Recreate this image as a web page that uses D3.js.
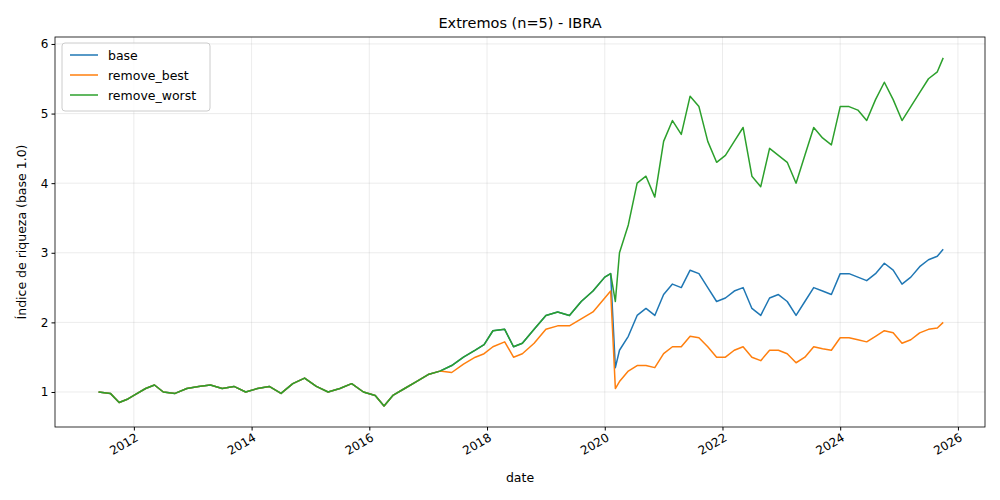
<!DOCTYPE html>
<html>
<head>
<meta charset="utf-8">
<script src="https://cdn.jsdelivr.net/npm/d3@7"></script>
<style>
  body { margin: 0; background: #fff; }
  text { font-family: "DejaVu Sans", sans-serif; }
</style>
</head>
<body>
<svg id="chart" width="1000" height="500"></svg>
<script>
// dates as fractional years
var years = [2011.4, 2011.6, 2011.75, 2011.9, 2012.0, 2012.2, 2012.35, 2012.5, 2012.7, 2012.9,
  2013.1, 2013.3, 2013.5, 2013.7, 2013.9, 2014.1, 2014.3, 2014.5, 2014.7, 2014.9,
  2015.1, 2015.3, 2015.5, 2015.7, 2015.9, 2016.1, 2016.25, 2016.4, 2016.6, 2016.8,
  2017.0, 2017.2, 2017.4, 2017.6, 2017.8, 2017.95, 2018.1, 2018.3, 2018.45, 2018.6,
  2018.8, 2019.0, 2019.2, 2019.4, 2019.6, 2019.8, 2020.0, 2020.1, 2020.18, 2020.25,
  2020.4, 2020.55, 2020.7, 2020.85, 2021.0, 2021.15, 2021.3, 2021.45, 2021.6, 2021.75,
  2021.9, 2022.05, 2022.2, 2022.35, 2022.5, 2022.65, 2022.8, 2022.95, 2023.1, 2023.25,
  2023.4, 2023.55, 2023.7, 2023.85, 2024.0, 2024.15, 2024.3, 2024.45, 2024.6, 2024.75,
  2024.9, 2025.05, 2025.2, 2025.35, 2025.5, 2025.65, 2025.75];

var removeWorst = [1.0, 0.98, 0.85, 0.9, 0.95, 1.05, 1.1, 1.0, 0.98, 1.05,
  1.08, 1.1, 1.05, 1.08, 1.0, 1.05, 1.08, 0.98, 1.12, 1.2,
  1.08, 1.0, 1.05, 1.12, 1.0, 0.95, 0.8, 0.95, 1.05, 1.15,
  1.25, 1.3, 1.38, 1.5, 1.6, 1.68, 1.88, 1.9, 1.65, 1.7,
  1.9, 2.1, 2.15, 2.1, 2.3, 2.45, 2.65, 2.7, 2.3, 3.0,
  3.4, 4.0, 4.1, 3.8, 4.6, 4.9, 4.7, 5.25, 5.1, 4.6,
  4.3, 4.4, 4.6, 4.8, 4.1, 3.95, 4.5, 4.4, 4.3, 4.0,
  4.4, 4.8, 4.65, 4.55, 5.1, 5.1, 5.05, 4.9, 5.2, 5.45,
  5.2, 4.9, 5.1, 5.3, 5.5, 5.6, 5.8];

var base = [1.0, 0.98, 0.85, 0.9, 0.95, 1.05, 1.1, 1.0, 0.98, 1.05,
  1.08, 1.1, 1.05, 1.08, 1.0, 1.05, 1.08, 0.98, 1.12, 1.2,
  1.08, 1.0, 1.05, 1.12, 1.0, 0.95, 0.8, 0.95, 1.05, 1.15,
  1.25, 1.3, 1.38, 1.5, 1.6, 1.68, 1.88, 1.9, 1.65, 1.7,
  1.9, 2.1, 2.15, 2.1, 2.3, 2.45, 2.65, 2.7, 1.35, 1.6,
  1.8, 2.1, 2.2, 2.1, 2.4, 2.55, 2.5, 2.75, 2.7, 2.5,
  2.3, 2.35, 2.45, 2.5, 2.2, 2.1, 2.35, 2.4, 2.3, 2.1,
  2.3, 2.5, 2.45, 2.4, 2.7, 2.7, 2.65, 2.6, 2.7, 2.85,
  2.75, 2.55, 2.65, 2.8, 2.9, 2.95, 3.05];

var removeBest = [1.0, 0.98, 0.85, 0.9, 0.95, 1.05, 1.1, 1.0, 0.98, 1.05,
  1.08, 1.1, 1.05, 1.08, 1.0, 1.05, 1.08, 0.98, 1.12, 1.2,
  1.08, 1.0, 1.05, 1.12, 1.0, 0.95, 0.8, 0.95, 1.05, 1.15,
  1.25, 1.3, 1.28, 1.4, 1.5, 1.55, 1.65, 1.72, 1.5, 1.55,
  1.7, 1.9, 1.95, 1.95, 2.05, 2.15, 2.35, 2.45, 1.05, 1.15,
  1.3, 1.38, 1.38, 1.35, 1.55, 1.65, 1.65, 1.8, 1.78, 1.65,
  1.5, 1.5, 1.6, 1.65, 1.5, 1.45, 1.6, 1.6, 1.55, 1.42,
  1.5, 1.65, 1.62, 1.6, 1.78, 1.78, 1.75, 1.72, 1.8, 1.88,
  1.85, 1.7, 1.75, 1.85, 1.9, 1.92, 2.0];

var seriesNames = ["base", "remove_best", "remove_worst"];
var seriesColors = ["#1f77b4", "#ff7f0e", "#2ca02c"];
var xTicks = [2012, 2014, 2016, 2018, 2020, 2022, 2024, 2026];
var yTicks = [1, 2, 3, 4, 5, 6];

var allSeries = [base, removeBest, removeWorst];

var svg = d3.select("#chart");
var margin = { l: 55, r: 15, t: 37, b: 73 };
var W = 1000, H = 500;

var x = d3.scaleLinear().domain([2010.66, 2026.46]).range([margin.l, W - margin.r]);
var y = d3.scaleLinear().domain([0.497, 6.1]).range([H - margin.b, margin.t]);

// grid
svg.append("g").selectAll("line").data(xTicks).join("line")
  .attr("x1", d => x(d)).attr("x2", d => x(d))
  .attr("y1", margin.t).attr("y2", H - margin.b)
  .attr("stroke", "#b0b0b0").attr("stroke-opacity", 0.3).attr("stroke-width", 0.8);
svg.append("g").selectAll("line").data(yTicks).join("line")
  .attr("x1", margin.l).attr("x2", W - margin.r)
  .attr("y1", d => y(d)).attr("y2", d => y(d))
  .attr("stroke", "#b0b0b0").attr("stroke-opacity", 0.3).attr("stroke-width", 0.8);

// lines
var line = d3.line().x((d, i) => x(years[i])).y(d => y(d));
allSeries.forEach(function (s, k) {
  svg.append("path").datum(s)
    .attr("d", line)
    .attr("fill", "none")
    .attr("stroke", seriesColors[k])
    .attr("stroke-width", 1.5)
    .attr("stroke-linejoin", "round");
});

// axes
var xAxis = svg.append("g").attr("transform", "translate(0," + (H - margin.b) + ")")
  .call(d3.axisBottom(x).tickValues(xTicks).tickFormat(d3.format("d")).tickSizeOuter(0).tickSize(3.5));
xAxis.selectAll("text")
  .attr("font-size", 12)
  .attr("text-anchor", "end")
  .attr("dx", "-0.2em").attr("dy", "0.6em")
  .attr("transform", "rotate(-30)");
var yAxis = svg.append("g").attr("transform", "translate(" + margin.l + ",0)")
  .call(d3.axisLeft(y).tickValues(yTicks).tickFormat(d3.format("d")).tickSizeOuter(0).tickSize(3.5));
yAxis.selectAll("text").attr("font-size", 12);
[xAxis, yAxis].forEach(a => a.select(".domain").remove());

// frame
svg.append("rect")
  .attr("x", margin.l).attr("y", margin.t)
  .attr("width", W - margin.l - margin.r).attr("height", H - margin.t - margin.b)
  .attr("fill", "none").attr("stroke", "#000").attr("stroke-width", 0.8);

// labels
svg.append("text").attr("x", (margin.l + W - margin.r) / 2).attr("y", 28)
  .attr("text-anchor", "middle").attr("font-size", 14.5).text("Extremos (n=5) - IBRA");
svg.append("text").attr("x", (margin.l + W - margin.r) / 2).attr("y", 482)
  .attr("text-anchor", "middle").attr("font-size", 12.5).text("date");
svg.append("text")
  .attr("transform", "translate(26," + ((margin.t + H - margin.b) / 2) + ") rotate(-90)")
  .attr("text-anchor", "middle").attr("font-size", 12.5).text("Índice de riqueza (base 1.0)");

// legend
var lg = svg.append("g").attr("transform", "translate(62,43)");
lg.append("rect").attr("width", 148).attr("height", 68).attr("rx", 3)
  .attr("fill", "#fff").attr("fill-opacity", 0.8).attr("stroke", "#ccc");
seriesNames.forEach(function (n, i) {
  var yy = 12 + i * 20;
  lg.append("line").attr("x1", 8).attr("x2", 36).attr("y1", yy).attr("y2", yy)
    .attr("stroke", seriesColors[i]).attr("stroke-width", 1.5);
  lg.append("text").attr("x", 46).attr("y", yy + 4.5).attr("font-size", 12.5).text(n);
});
</script>
</body>
</html>
